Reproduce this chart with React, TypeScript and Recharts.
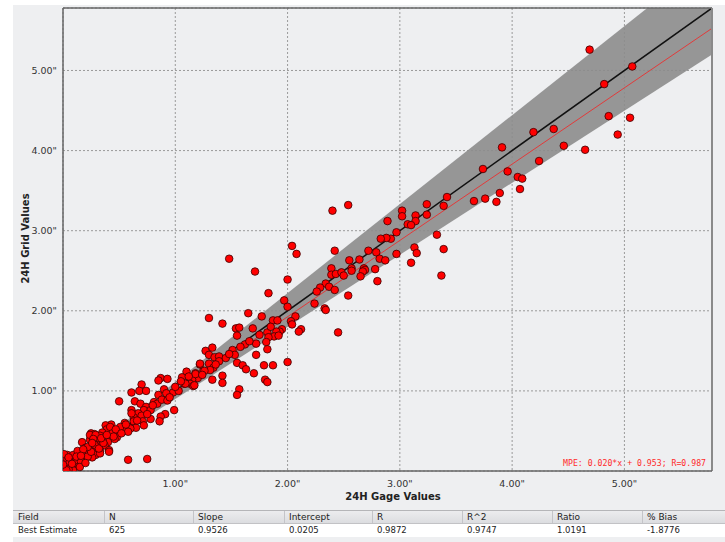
import { Area, CartesianGrid, ComposedChart, Line, ReferenceLine, Scatter, XAxis, YAxis } from "recharts";

const AXIS_MAX = 5.78;
const TICKS = [1, 2, 3, 4, 5];
const SLOPE = 0.9526;
const INTERCEPT = 0.0205;

// guide band around the 1:1 line, read at both ends of the axis
const GUIDE_X = [0, AXIS_MAX];
const BAND_LO = [0, 5.2];
const BAND_HI = [0, 6.42];

const GAGE = [
  4.69, 5.07, 4.82, 4.86, 5.05, 4.37, 4.94, 4.46, 4.65, 4.19, 3.91, 4.24, 3.74, 3.96, 4.05, 4.09, 4.07, 3.42, 3.39, 3.66, 3.76, 3.89, 3.86,
  3.24, 3.24, 3.14, 3.14, 3.02, 3.02, 3.07, 3.1, 2.97, 2.89, 2.92, 2.88, 2.83, 3.33, 3.13, 3.15, 3.39, 2.97, 3.1, 3.37, 2.72, 2.79, 2.82,
  2.87, 2.64, 2.55, 2.42, 2.4, 2.54, 2.39, 2.39, 2.43, 2.48, 2.5, 2.57, 2.57, 2.68, 2.69, 2.67, 2.65, 2.78, 2.8, 2.34, 2.29, 2.37, 2.42,
  2.26, 2.54, 2.24, 2.33, 2.45, 2.34, 2.04,
  1.48, 2.08, 1.71, 2.0, 1.83, 1.97, 2.0, 2.07, 2.03, 2.04, 2.12, 2.1, 1.65, 1.77, 1.87, 1.91, 1.95, 1.93, 1.9, 1.88, 1.92, 1.82, 1.83,
  1.81, 1.82, 1.3, 1.42, 1.54, 1.57, 1.55, 1.69, 1.62, 1.72, 1.51, 1.53, 1.72, 1.55, 1.6, 1.63, 1.7, 1.79, 1.87, 2.0, 1.8, 1.82, 1.57,
  1.55, 1.42, 1.42, 1.33, 1.27, 1.33, 1.3, 1.35, 1.39, 1.45, 1.3, 1.34, 1.39, 1.31, 1.25, 1.22, 1.18, 1.2, 1.15, 1.1, 1.06, 1.13, 1.16,
  1.08, 0.87, 0.93, 0.85, 0.9, 0.98, 1.03, 1.0, 1.18, 1.09, 1.17, 1.22, 1.26,
  0.5, 0.61, 0.7, 0.68, 0.74, 0.64, 0.69, 0.85, 0.92, 0.81, 0.84, 0.88, 0.93, 0.99, 0.91, 0.87, 0.86, 0.74, 0.72, 0.78, 0.67, 0.7, 0.63,
  0.63, 0.71, 0.78, 0.72, 0.65, 0.58, 0.6, 0.54, 0.58, 0.49, 0.43, 0.38, 0.43, 0.39, 0.48, 0.46, 0.35, 0.25, 0.28, 0.24, 0.31, 0.33, 0.37,
  0.4, 0.31, 0.37, 0.41, 0.33, 0.17, 0.2, 0.27, 0.23, 0.29, 0.26, 0.18, 0.14, 0.1, 0.04, 0.0, 0.07, 0.14, 0.09, 0.0, 0.03, 0.58, 0.75,
  0.61, 0.61, 0.55, 0.51, 0.01, 0.04, 0.09, 0.24, 0.29, 0.27, 0.35, 0.42, 0.41, 0.33, 0.3, 0.11, 0.07, 0.01, 0.09,
  0.02, 0.05, 0.12, 0.16, 0.19, 0.22, 0.13, 0.06, 0.15, 0.2, 0.25, 0.28, 0.32, 0.36, 0.22, 0.18, 0.12, 0.08, 0.03, 0.0, 0.05, 0.16, 0.26,
  0.34, 0.44, 0.47, 0.52, 0.45, 0.39, 0.56, 0.66, 0.75, 0.8, 0.95, 1.05, 1.12, 1.24, 1.36, 1.48, 1.58, 1.66, 1.75, 1.85,
];

const GRID = [
  5.26, 5.05, 4.83, 4.43, 4.41, 4.27, 4.2, 4.06, 4.01, 4.23, 4.04, 3.87, 3.77, 3.74, 3.67, 3.65, 3.52, 3.42, 3.31, 3.37, 3.4, 3.47, 3.36,
  3.33, 3.2, 3.19, 3.12, 3.25, 3.18, 3.08, 3.07, 2.98, 3.12, 2.9, 2.91, 2.9, 2.95, 2.79, 2.72, 2.77, 2.71, 2.6, 2.44, 2.75, 2.73, 2.65,
  2.63, 2.64, 2.63, 2.75, 3.25, 3.32, 2.53, 2.45, 2.46, 2.48, 2.44, 2.53, 2.5, 2.53, 2.51, 2.49, 2.43, 2.52, 2.37, 2.34, 2.29, 2.3, 2.26,
  2.24, 2.19, 2.09, 2.03, 1.73, 2.01, 2.81,
  2.65, 2.71, 2.49, 2.39, 2.22, 2.13, 2.05, 1.93, 1.87, 1.83, 1.77, 1.74, 1.97, 1.93, 1.88, 1.88, 1.77, 1.74, 1.74, 1.68, 1.69, 1.73, 1.67,
  1.61, 1.52, 1.91, 1.84, 1.78, 1.79, 1.69, 1.78, 1.58, 1.59, 1.51, 1.45, 1.45, 1.35, 1.32, 1.27, 1.22, 1.32, 1.32, 1.36, 1.14, 1.11, 1.02,
  0.95, 1.19, 1.1, 1.14, 1.5, 1.54, 1.45, 1.42, 1.43, 1.41, 1.34, 1.29, 1.37, 1.26, 1.25, 1.33, 1.22, 1.16, 1.14, 1.24, 1.17, 1.09, 1.06,
  1.09, 1.16, 1.15, 1.13, 1.02, 0.98, 1.0, 1.05, 1.21, 1.09, 1.07, 1.34, 1.25,
  0.87, 0.98, 1.08, 1.0, 1.0, 0.87, 0.84, 0.95, 0.97, 0.86, 0.84, 0.89, 0.88, 0.76, 0.71, 0.68, 0.62, 0.8, 0.76, 0.76, 0.72, 0.69, 0.67,
  0.62, 0.62, 0.65, 0.57, 0.54, 0.55, 0.53, 0.5, 0.49, 0.47, 0.58, 0.57, 0.51, 0.52, 0.42, 0.4, 0.48, 0.47, 0.46, 0.39, 0.37, 0.44, 0.39,
  0.36, 0.32, 0.32, 0.26, 0.25, 0.36, 0.29, 0.28, 0.22, 0.2, 0.17, 0.17, 0.21, 0.15, 0.2, 0.15, 0.13, 0.1, 0.05, 0.03, 0.09, 0.14, 0.15,
  0.76, 0.72, 0.6, 0.55, 0.21, 0.14, 0.2, 0.45, 0.45, 0.4, 0.39, 0.55, 0.24, 0.22, 0.3, 0.1, 0.05, 0.0, 0.01,
  0.06, 0.02, 0.14, 0.12, 0.22, 0.18, 0.25, 0.11, 0.05, 0.1, 0.24, 0.33, 0.28, 0.35, 0.3, 0.27, 0.18, 0.09, 0.01, 0.08, 0.17, 0.19, 0.35,
  0.41, 0.47, 0.52, 0.47, 0.43, 0.45, 0.58, 0.63, 0.71, 0.82, 0.92, 1.12, 1.18, 1.2, 1.33, 1.46, 1.55, 1.62, 1.7, 1.8,
];

const TABLE_HEAD = ["Field", "N", "Slope", "Intercept", "R", "R^2", "Ratio", "% Bias"];
const TABLE_ROW = ["Best Estimate", "625", "0.9526", "0.0205", "0.9872", "0.9747", "1.0191", "-1.8776"];
const COL_X = [13, 104, 193, 284, 372, 462, 552, 642];

const points = GAGE.map((x, i) => ({ x, y: GRID[i] }));
const guide = GUIDE_X.map((x, i) => ({
  x,
  band: [BAND_LO[i], BAND_HI[i]],
  one: x,
  fit: SLOPE * x + INTERCEPT,
}));

const FONT = "'DejaVu Sans', sans-serif";
const fmt = (v: number) => `${v.toFixed(2)}"`;

function Dot(props: { cx?: number; cy?: number }) {
  if (props.cx == null || props.cy == null) return null;
  return <circle cx={props.cx} cy={props.cy} r={3.8} fill="#ff0000" stroke="#3a0000" strokeWidth={0.8} />;
}

export default function App() {
  return (
    <div style={{ position: "absolute", left: 0, top: 0, width: 725, height: 542, background: "#fff", fontFamily: FONT, overflow: "hidden" }}>
      <div style={{ position: "absolute", left: 13, top: 5, width: 712, height: 537, background: "#eeeff1" }} />
      <div style={{ position: "absolute", left: 0, top: 0 }}>
        <ComposedChart
          width={725}
          height={510}
          data={guide}
          margin={{ top: 8, right: 13, bottom: 0, left: 0 }}
          style={{ fontFamily: FONT }}
        >
          <CartesianGrid stroke="#9a9a9a" strokeDasharray="2 2" />
          <XAxis
            type="number"
            dataKey="x"
            domain={[0, AXIS_MAX]}
            allowDataOverflow
            ticks={TICKS}
            tickFormatter={fmt}
            height={39}
            tickSize={0}
            tickMargin={9}
            tick={{ fill: "#333", fontSize: 9.5 }}
            axisLine={{ stroke: "#666", strokeWidth: 1.5 }}
          />
          <YAxis
            type="number"
            domain={[0, AXIS_MAX]}
            allowDataOverflow
            ticks={TICKS}
            tickFormatter={fmt}
            width={63}
            tickSize={0}
            tickMargin={6}
            tick={{ fill: "#333", fontSize: 9.5 }}
            axisLine={{ stroke: "#666", strokeWidth: 1.5 }}
          />
          <Area dataKey="band" stroke="none" fill="#8c8c8c" fillOpacity={0.9} isAnimationActive={false} />
          <Line dataKey="fit" stroke="#e23a3a" strokeWidth={1} dot={false} isAnimationActive={false} />
          <Line dataKey="one" stroke="#111" strokeWidth={1.5} dot={false} isAnimationActive={false} />
          <ReferenceLine y={AXIS_MAX} stroke="#666" strokeWidth={1.5} />
          <ReferenceLine x={AXIS_MAX} stroke="#8a8a8a" strokeWidth={2} />
          <Scatter data={points} dataKey="y" shape={<Dot />} isAnimationActive={false} />
        </ComposedChart>
      </div>
      <div style={{ position: "absolute", right: 19, top: 458, fontFamily: "'DejaVu Sans Mono', monospace", fontSize: 8.2, color: "#ff2a2a", whiteSpace: "nowrap" }}>
        MPE: 0.020*x + 0.953; R=0.987
      </div>
      <div style={{ position: "absolute", left: 293, width: 200, top: 491, textAlign: "center", fontSize: 10, fontWeight: "bold", color: "#222" }}>
        24H Gage Values
      </div>
      <div
        style={{
          position: "absolute",
          left: 25 - 100,
          width: 200,
          top: 233,
          textAlign: "center",
          fontSize: 10,
          fontWeight: "bold",
          color: "#222",
          transform: "rotate(-90deg)",
        }}
      >
        24H Grid Values
      </div>
      <div style={{ position: "absolute", left: 13, top: 510, width: 712, height: 14, background: "linear-gradient(#ececee, #dcdde0)", borderTop: "1px solid #b5b5b8", borderBottom: "1px solid #c2c2c5", boxSizing: "border-box" }} />
      <div style={{ position: "absolute", left: 13, top: 524, width: 712, height: 13, background: "#fff" }} />
      {TABLE_HEAD.map((h, i) => (
        <div key={h}>
          {i > 0 && <div style={{ position: "absolute", left: COL_X[i], top: 511, width: 1, height: 12, background: "#c4c4c8" }} />}
          <div style={{ position: "absolute", left: COL_X[i] + 5, top: 511, fontSize: 9, color: "#222", lineHeight: "12px" }}>{h}</div>
          <div style={{ position: "absolute", left: COL_X[i] + 5, top: 524, fontSize: 8.5, color: "#222", lineHeight: "13px" }}>{TABLE_ROW[i]}</div>
        </div>
      ))}
    </div>
  );
}
